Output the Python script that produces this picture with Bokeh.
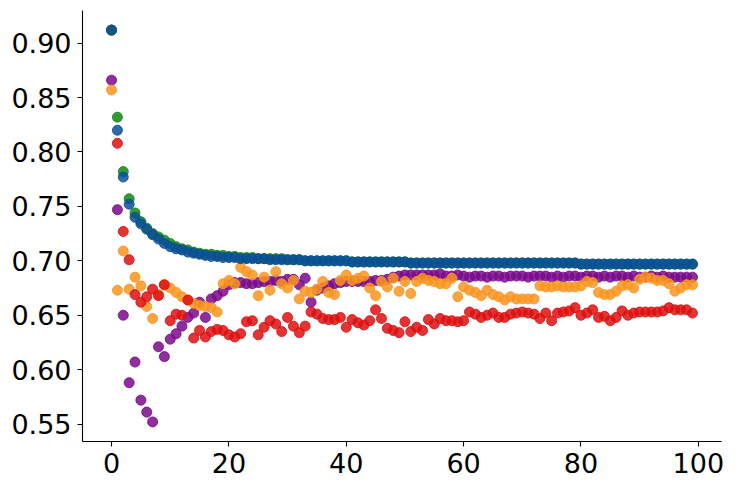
from bokeh.plotting import figure
from bokeh.models import Range1d, FixedTicker, NumeralTickFormatter
from bokeh.embed import file_html
from bokeh.resources import INLINE

steps = list(range(100))

green = [0.912, 0.832, 0.782, 0.757, 0.744, 0.736, 0.730, 0.725, 0.722, 0.719,
         0.716, 0.713, 0.711, 0.710, 0.708, 0.707, 0.706, 0.706, 0.705, 0.705,
         0.704, 0.704, 0.703, 0.703, 0.703, 0.702, 0.702, 0.702, 0.702, 0.702,
         0.701, 0.701, 0.701, 0.700, 0.700, 0.700, 0.700, 0.700, 0.700, 0.700,
         0.700, 0.699, 0.699, 0.699, 0.699, 0.699, 0.699, 0.699, 0.699, 0.699,
         0.699, 0.698, 0.698, 0.698, 0.698, 0.698, 0.698, 0.698, 0.698, 0.698,
         0.698, 0.698, 0.698, 0.698, 0.698, 0.698, 0.698, 0.698, 0.698, 0.698,
         0.698, 0.698, 0.698, 0.698, 0.698, 0.698, 0.698, 0.698, 0.698, 0.698,
         0.697, 0.697, 0.697, 0.697, 0.697, 0.697, 0.697, 0.697, 0.697, 0.697,
         0.697, 0.697, 0.697, 0.697, 0.697, 0.697, 0.697, 0.697, 0.697, 0.697]

blue = [0.912, 0.820, 0.777, 0.752, 0.740, 0.734, 0.729, 0.724, 0.720, 0.716,
        0.713, 0.711, 0.710, 0.708, 0.707, 0.706, 0.705, 0.704, 0.704, 0.703,
        0.703, 0.703, 0.702, 0.702, 0.702, 0.702, 0.702, 0.701, 0.701, 0.701,
        0.701, 0.701, 0.701, 0.700, 0.700, 0.700, 0.700, 0.700, 0.700, 0.700,
        0.700, 0.699, 0.699, 0.699, 0.699, 0.699, 0.699, 0.699, 0.699, 0.699,
        0.699, 0.698, 0.698, 0.698, 0.698, 0.698, 0.698, 0.698, 0.698, 0.698,
        0.698, 0.698, 0.698, 0.698, 0.698, 0.698, 0.698, 0.698, 0.698, 0.698,
        0.698, 0.698, 0.698, 0.698, 0.698, 0.698, 0.698, 0.698, 0.698, 0.698,
        0.697, 0.697, 0.697, 0.697, 0.697, 0.697, 0.697, 0.697, 0.697, 0.697,
        0.697, 0.697, 0.697, 0.697, 0.697, 0.697, 0.697, 0.697, 0.697, 0.697]

red = [0.912, 0.808, 0.727, 0.701, 0.669, 0.662, 0.667, 0.674, 0.668, 0.678,
       0.645, 0.651, 0.650, 0.664, 0.629, 0.636, 0.630, 0.635, 0.637, 0.636,
       0.632, 0.630, 0.633, 0.644, 0.645, 0.632, 0.639, 0.645, 0.642, 0.635,
       0.648, 0.640, 0.634, 0.640, 0.653, 0.651, 0.647, 0.646, 0.646, 0.648,
       0.639, 0.646, 0.643, 0.641, 0.645, 0.655, 0.647, 0.638, 0.636, 0.634,
       0.644, 0.635, 0.639, 0.636, 0.646, 0.642, 0.647, 0.645, 0.645, 0.644,
       0.645, 0.653, 0.651, 0.648, 0.650, 0.652, 0.648, 0.648, 0.651, 0.652,
       0.653, 0.652, 0.651, 0.647, 0.652, 0.645, 0.652, 0.653, 0.654, 0.657,
       0.650, 0.652, 0.655, 0.648, 0.649, 0.645, 0.648, 0.654, 0.650, 0.652,
       0.653, 0.653, 0.653, 0.653, 0.654, 0.657, 0.655, 0.655, 0.655, 0.652]

purple = [0.866, 0.747, 0.650, 0.588, 0.607, 0.572, 0.561, 0.552, 0.621, 0.612,
          0.628, 0.633, 0.640, 0.648, 0.652, 0.662, 0.648, 0.665, 0.668, 0.672,
          0.678, 0.680, 0.680, 0.679, 0.679, 0.680, 0.681, 0.681, 0.682, 0.681,
          0.683, 0.683, 0.678, 0.684, 0.662, 0.673, 0.675, 0.677, 0.679, 0.680,
          0.681, 0.681, 0.681, 0.681, 0.681, 0.682, 0.682, 0.683, 0.685, 0.686,
          0.687, 0.687, 0.687, 0.687, 0.687, 0.687, 0.688, 0.686, 0.686, 0.687,
          0.686, 0.685, 0.686, 0.686, 0.685, 0.686, 0.686, 0.685, 0.686, 0.686,
          0.686, 0.685, 0.686, 0.686, 0.686, 0.685, 0.686, 0.685, 0.686, 0.686,
          0.685, 0.686, 0.686, 0.685, 0.686, 0.685, 0.686, 0.686, 0.685, 0.686,
          0.685, 0.685, 0.686, 0.685, 0.686, 0.685, 0.685, 0.685, 0.685, 0.685]

orange = [0.857, 0.673, 0.709, 0.674, 0.685, 0.677, 0.658, 0.647, 0.669, 0.678,
          0.675, 0.671, 0.667, 0.664, 0.661, 0.659, 0.658, 0.657, 0.653, 0.679,
          0.682, 0.679, 0.694, 0.690, 0.687, 0.668, 0.685, 0.673, 0.690, 0.679,
          0.675, 0.682, 0.665, 0.672, 0.671, 0.674, 0.681, 0.671, 0.669, 0.682,
          0.687, 0.682, 0.684, 0.686, 0.675, 0.668, 0.681, 0.676, 0.684, 0.672,
          0.681, 0.670, 0.681, 0.684, 0.682, 0.681, 0.679, 0.679, 0.684, 0.667,
          0.676, 0.673, 0.671, 0.668, 0.673, 0.669, 0.667, 0.664, 0.667, 0.665,
          0.665, 0.665, 0.665, 0.677, 0.676, 0.676, 0.677, 0.676, 0.676, 0.676,
          0.677, 0.681, 0.680, 0.671, 0.669, 0.669, 0.672, 0.677, 0.678, 0.675,
          0.683, 0.685, 0.684, 0.682, 0.682, 0.679, 0.672, 0.675, 0.678, 0.678]

x_ticks = [0, 20, 40, 60, 80, 100]
y_ticks = [0.55, 0.60, 0.65, 0.70, 0.75, 0.80, 0.85, 0.90]

series = [
    (purple, "#7a0a8c"),
    (orange, "#fa9520"),
    (red, "#dd1111"),
    (green, "#108a10"),
    (blue, "#0a4f9a"),
]

all_y = green + blue + red + purple + orange
ymin, ymax = min(all_y), max(all_y)
ypad = (ymax - ymin) * 0.05
xmin, xmax = min(steps), max(steps)
xpad = (xmax - xmin) * 0.05

p = figure(width=731, height=486, output_backend="svg", toolbar_location=None,
           x_range=Range1d(xmin - xpad, xmax + xpad),
           y_range=Range1d(ymin - ypad, ymax + ypad),
           min_border_left=82, min_border_right=10, min_border_top=10,
           min_border_bottom=45)

for vals, col in series:
    p.scatter(steps, vals, size=10, fill_color=col, line_color=col,
              fill_alpha=0.85, line_alpha=0.85)

p.outline_line_color = None
p.xgrid.visible = False
p.ygrid.visible = False
p.background_fill_color = "white"
p.border_fill_color = "white"

p.xaxis.ticker = FixedTicker(ticks=x_ticks)
p.yaxis.ticker = FixedTicker(ticks=y_ticks)
p.yaxis.formatter = NumeralTickFormatter(format="0.00")

for ax in (p.xaxis[0], p.yaxis[0]):
    ax.major_label_text_font = "DejaVu Sans"
    ax.major_label_text_font_size = "27px"
    ax.major_label_text_color = "black"
    ax.axis_line_color = "black"
    ax.axis_line_width = 1.1
    ax.major_tick_line_color = "black"
    ax.major_tick_line_width = 1.1
    ax.major_tick_out = 5
    ax.major_tick_in = 0
    ax.minor_tick_out = 0
    ax.minor_tick_in = 0
    ax.major_label_standoff = 6

open("out.html", "w").write(file_html(p, INLINE))
